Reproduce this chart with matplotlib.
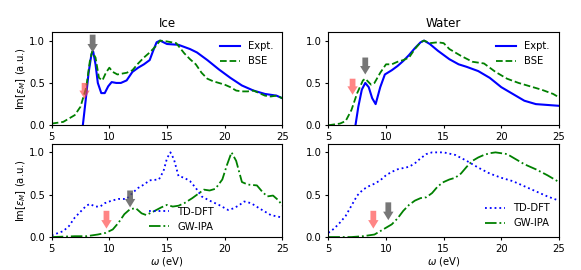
import matplotlib
matplotlib.use('Agg')
import matplotlib.pyplot as plt

# ---- Ice, top: Expt. vs BSE
ice_expt_x = [7.7, 7.95, 8.2, 8.45, 8.6, 8.8, 9.0, 9.3, 9.6, 9.9, 10.2, 10.6, 11.0, 11.5, 12.0, 12.5, 13.0, 13.5, 13.8, 14.1, 14.4, 15.0, 16.0, 17.0, 17.6, 18.5, 19.5, 20.5, 21.5, 22.5, 23.5, 24.5, 25.0]
ice_expt_y = [0.0, 0.3, 0.62, 0.84, 0.87, 0.72, 0.5, 0.38, 0.38, 0.46, 0.51, 0.5, 0.5, 0.53, 0.63, 0.68, 0.72, 0.77, 0.88, 0.98, 1.0, 0.96, 0.95, 0.9, 0.86, 0.77, 0.66, 0.56, 0.47, 0.41, 0.37, 0.35, 0.32]
ice_bse_x = [5.0, 6.0, 7.0, 7.5, 8.0, 8.3, 8.5, 8.8, 9.1, 9.4, 9.7, 10.0, 10.3, 10.7, 11.5, 12.0, 12.5, 13.0, 13.5, 14.0, 14.4, 15.0, 15.8, 16.5, 17.0, 17.5, 18.0, 18.5, 19.0, 20.0, 20.5, 21.0, 21.5, 22.0, 22.5, 23.0, 23.5, 24.0, 24.5, 25.0]
ice_bse_y = [0.02, 0.04, 0.12, 0.22, 0.45, 0.75, 0.87, 0.8, 0.56, 0.53, 0.62, 0.68, 0.63, 0.6, 0.62, 0.65, 0.73, 0.8, 0.86, 0.93, 1.0, 0.99, 0.97, 0.85, 0.78, 0.72, 0.62, 0.55, 0.52, 0.48, 0.45, 0.41, 0.4, 0.4, 0.41, 0.38, 0.35, 0.34, 0.35, 0.32]

# ---- Water, top
wat_expt_x = [7.35, 7.6, 7.9, 8.2, 8.5, 8.8, 9.1, 9.5, 9.9, 10.5, 11.0, 11.5, 12.0, 12.5, 13.0, 13.3, 13.8, 14.5, 15.5, 16.3, 17.0, 18.0, 19.0, 20.0, 21.0, 22.0, 23.0, 24.0, 25.0]
wat_expt_y = [0.0, 0.22, 0.42, 0.5, 0.45, 0.32, 0.25, 0.45, 0.6, 0.65, 0.7, 0.76, 0.83, 0.91, 0.98, 1.0, 0.96, 0.88, 0.78, 0.72, 0.69, 0.64, 0.56, 0.45, 0.37, 0.29, 0.25, 0.24, 0.23]
wat_bse_x = [5.0, 6.0, 6.5, 7.0, 7.5, 8.0, 8.2, 8.7, 9.0, 9.5, 10.0, 10.5, 11.0, 11.5, 12.0, 12.5, 13.0, 13.3, 13.8, 14.5, 15.0, 15.5, 16.5, 17.5, 18.5, 19.5, 20.5, 21.5, 22.5, 23.5, 24.5, 25.0]
wat_bse_y = [0.0, 0.02, 0.05, 0.18, 0.38, 0.53, 0.55, 0.48, 0.5, 0.62, 0.72, 0.72, 0.75, 0.77, 0.8, 0.9, 0.98, 1.0, 0.97, 0.98, 0.97, 0.9, 0.82, 0.75, 0.73, 0.63, 0.55, 0.5, 0.46, 0.42, 0.37, 0.33]

# ---- Ice, bottom: TD-DFT vs GW-IPA
ice_td_x = [5.0, 6.0, 6.5, 7.0, 7.5, 8.0, 8.3, 8.8, 9.2, 9.6, 10.2, 10.8, 11.5, 12.0, 12.5, 13.0, 13.5, 14.3, 14.7, 15.0, 15.3, 15.6, 16.0, 16.5, 17.0, 17.5, 18.0, 18.7, 19.5, 20.3, 20.8, 21.3, 21.7, 22.3, 23.0, 24.0, 25.0]
ice_td_y = [0.02, 0.07, 0.13, 0.23, 0.3, 0.37, 0.39, 0.36, 0.36, 0.4, 0.43, 0.45, 0.45, 0.52, 0.58, 0.62, 0.67, 0.68, 0.78, 0.93, 1.0, 0.92, 0.72, 0.7, 0.66, 0.58, 0.48, 0.43, 0.38, 0.32, 0.34, 0.38, 0.42, 0.4, 0.34, 0.26, 0.23]
ice_gw_x = [5.0, 7.0, 8.0, 9.0, 9.7, 10.3, 10.8, 11.3, 11.8, 12.3, 12.8, 13.2, 13.8, 14.5, 15.0, 15.5, 16.0, 16.5, 17.2, 17.8, 18.2, 18.7, 19.2, 19.8, 20.2, 20.6, 21.0, 21.5, 22.0, 22.8, 23.3, 23.7, 24.2, 24.7, 25.0]
ice_gw_y = [0.0, 0.01, 0.01, 0.03, 0.05, 0.09, 0.17, 0.27, 0.33, 0.34, 0.28, 0.26, 0.3, 0.35, 0.38, 0.36, 0.37, 0.4, 0.46, 0.52, 0.56, 0.55, 0.57, 0.68, 0.85, 1.0, 0.9, 0.65, 0.62, 0.61, 0.53, 0.48, 0.49, 0.43, 0.37]

# ---- Water, bottom
wat_td_x = [5.0, 5.5, 6.0, 6.5, 7.0, 7.5, 8.0, 8.5, 9.0, 9.5, 10.0, 10.5, 11.0, 12.0, 12.5, 13.0, 13.5, 14.0, 15.0, 16.0, 17.0, 18.0, 19.0, 20.0, 21.0, 22.0, 23.0, 24.0, 25.0]
wat_td_y = [0.05, 0.1, 0.17, 0.25, 0.37, 0.49, 0.56, 0.6, 0.63, 0.67, 0.73, 0.77, 0.8, 0.83, 0.87, 0.93, 0.98, 1.0, 1.0, 0.97, 0.9, 0.82, 0.75, 0.7, 0.66, 0.6, 0.54, 0.48, 0.43]
wat_gw_x = [5.0, 7.0, 8.0, 8.5, 9.0, 9.5, 10.0, 10.5, 11.0, 11.5, 12.0, 12.5, 13.0, 13.5, 14.0, 14.5, 15.0, 15.5, 16.0, 16.5, 17.0, 17.5, 18.0, 18.5, 19.0, 19.5, 20.0, 20.5, 21.0, 22.0, 23.0, 24.0, 25.0]
wat_gw_y = [0.0, 0.0, 0.01, 0.02, 0.03, 0.07, 0.11, 0.15, 0.22, 0.31, 0.38, 0.43, 0.46, 0.47, 0.52, 0.6, 0.65, 0.68, 0.7, 0.75, 0.83, 0.9, 0.94, 0.97, 0.99, 1.0, 0.99, 0.98, 0.94, 0.86, 0.8, 0.73, 0.65]

# arrows: (x, tail y, tip y)
arrows_gray = [(8.55, 1.07, 0.86), (8.2, 0.80, 0.60), (11.8, 0.55, 0.35), (10.2, 0.41, 0.2)]
arrows_red = [(7.85, 0.50, 0.31), (7.1, 0.55, 0.36), (9.75, 0.31, 0.1), (8.9, 0.31, 0.1)]

plt.rcParams['font.size'] = 7.2
plt.rcParams['axes.titlesize'] = 8.6
plt.rcParams['xtick.major.size'] = 2.5
plt.rcParams['ytick.major.size'] = 2.5
plt.rcParams['xtick.major.pad'] = 2.5
plt.rcParams['ytick.major.pad'] = 2.5
plt.rcParams['axes.labelpad'] = 1.0
plt.rcParams['axes.titlepad'] = 3.5

fig, axes = plt.subplots(2, 2, figsize=(5.81, 2.70), dpi=100)
fig.subplots_adjust(left=0.089, right=0.962, top=0.881, bottom=0.122, hspace=0.2, wspace=0.2)


def add_arrow(ax, a, col, alpha):
    x, y0, y1 = a
    ax.arrow(x, y0, 0, y1 - y0, width=0.5, head_width=0.9, head_length=0.1,
             length_includes_head=True, color=col, alpha=alpha, lw=0, zorder=5)


ax = axes[0, 0]
ax.plot(ice_expt_x, ice_expt_y, 'b-', lw=1.5, label='Expt.')
ax.plot(ice_bse_x, ice_bse_y, 'g--', lw=1.3, label='BSE')
ax.set_title('Ice')
ax.legend(frameon=False, loc='upper right')

ax = axes[0, 1]
ax.plot(wat_expt_x, wat_expt_y, 'b-', lw=1.5, label='Expt.')
ax.plot(wat_bse_x, wat_bse_y, 'g--', lw=1.3, label='BSE')
ax.set_title('Water')
ax.legend(frameon=False, loc='upper right')

ax = axes[1, 0]
ax.plot(ice_td_x, ice_td_y, 'b:', lw=1.3, label='TD-DFT')
ax.plot(ice_gw_x, ice_gw_y, 'g-.', lw=1.3, label='GW-IPA')
ax.legend(frameon=False, loc='lower left', bbox_to_anchor=(0.385, -0.04))

ax = axes[1, 1]
ax.plot(wat_td_x, wat_td_y, 'b:', lw=1.3, label='TD-DFT')
ax.plot(wat_gw_x, wat_gw_y, 'g-.', lw=1.3, label='GW-IPA')
ax.legend(frameon=False, loc='lower right')

for i, ax in enumerate(axes.flat):
    add_arrow(ax, arrows_gray[i], '#555555', 0.8)
    add_arrow(ax, arrows_red[i], '#ff4444', 0.65)
    ax.set_xlim(5, 25)
    ax.set_ylim(0, 1.1)
    ax.set_xticks([5, 10, 15, 20, 25])
    ax.set_yticks([0.0, 0.5, 1.0])

for ax in axes[:, 0]:
    ax.set_ylabel(r'Im[$\epsilon_M$] (a.u.)')
for ax in axes[1, :]:
    ax.set_xlabel(r'$\omega$ (eV)')

fig.savefig('out.png', dpi=100)
